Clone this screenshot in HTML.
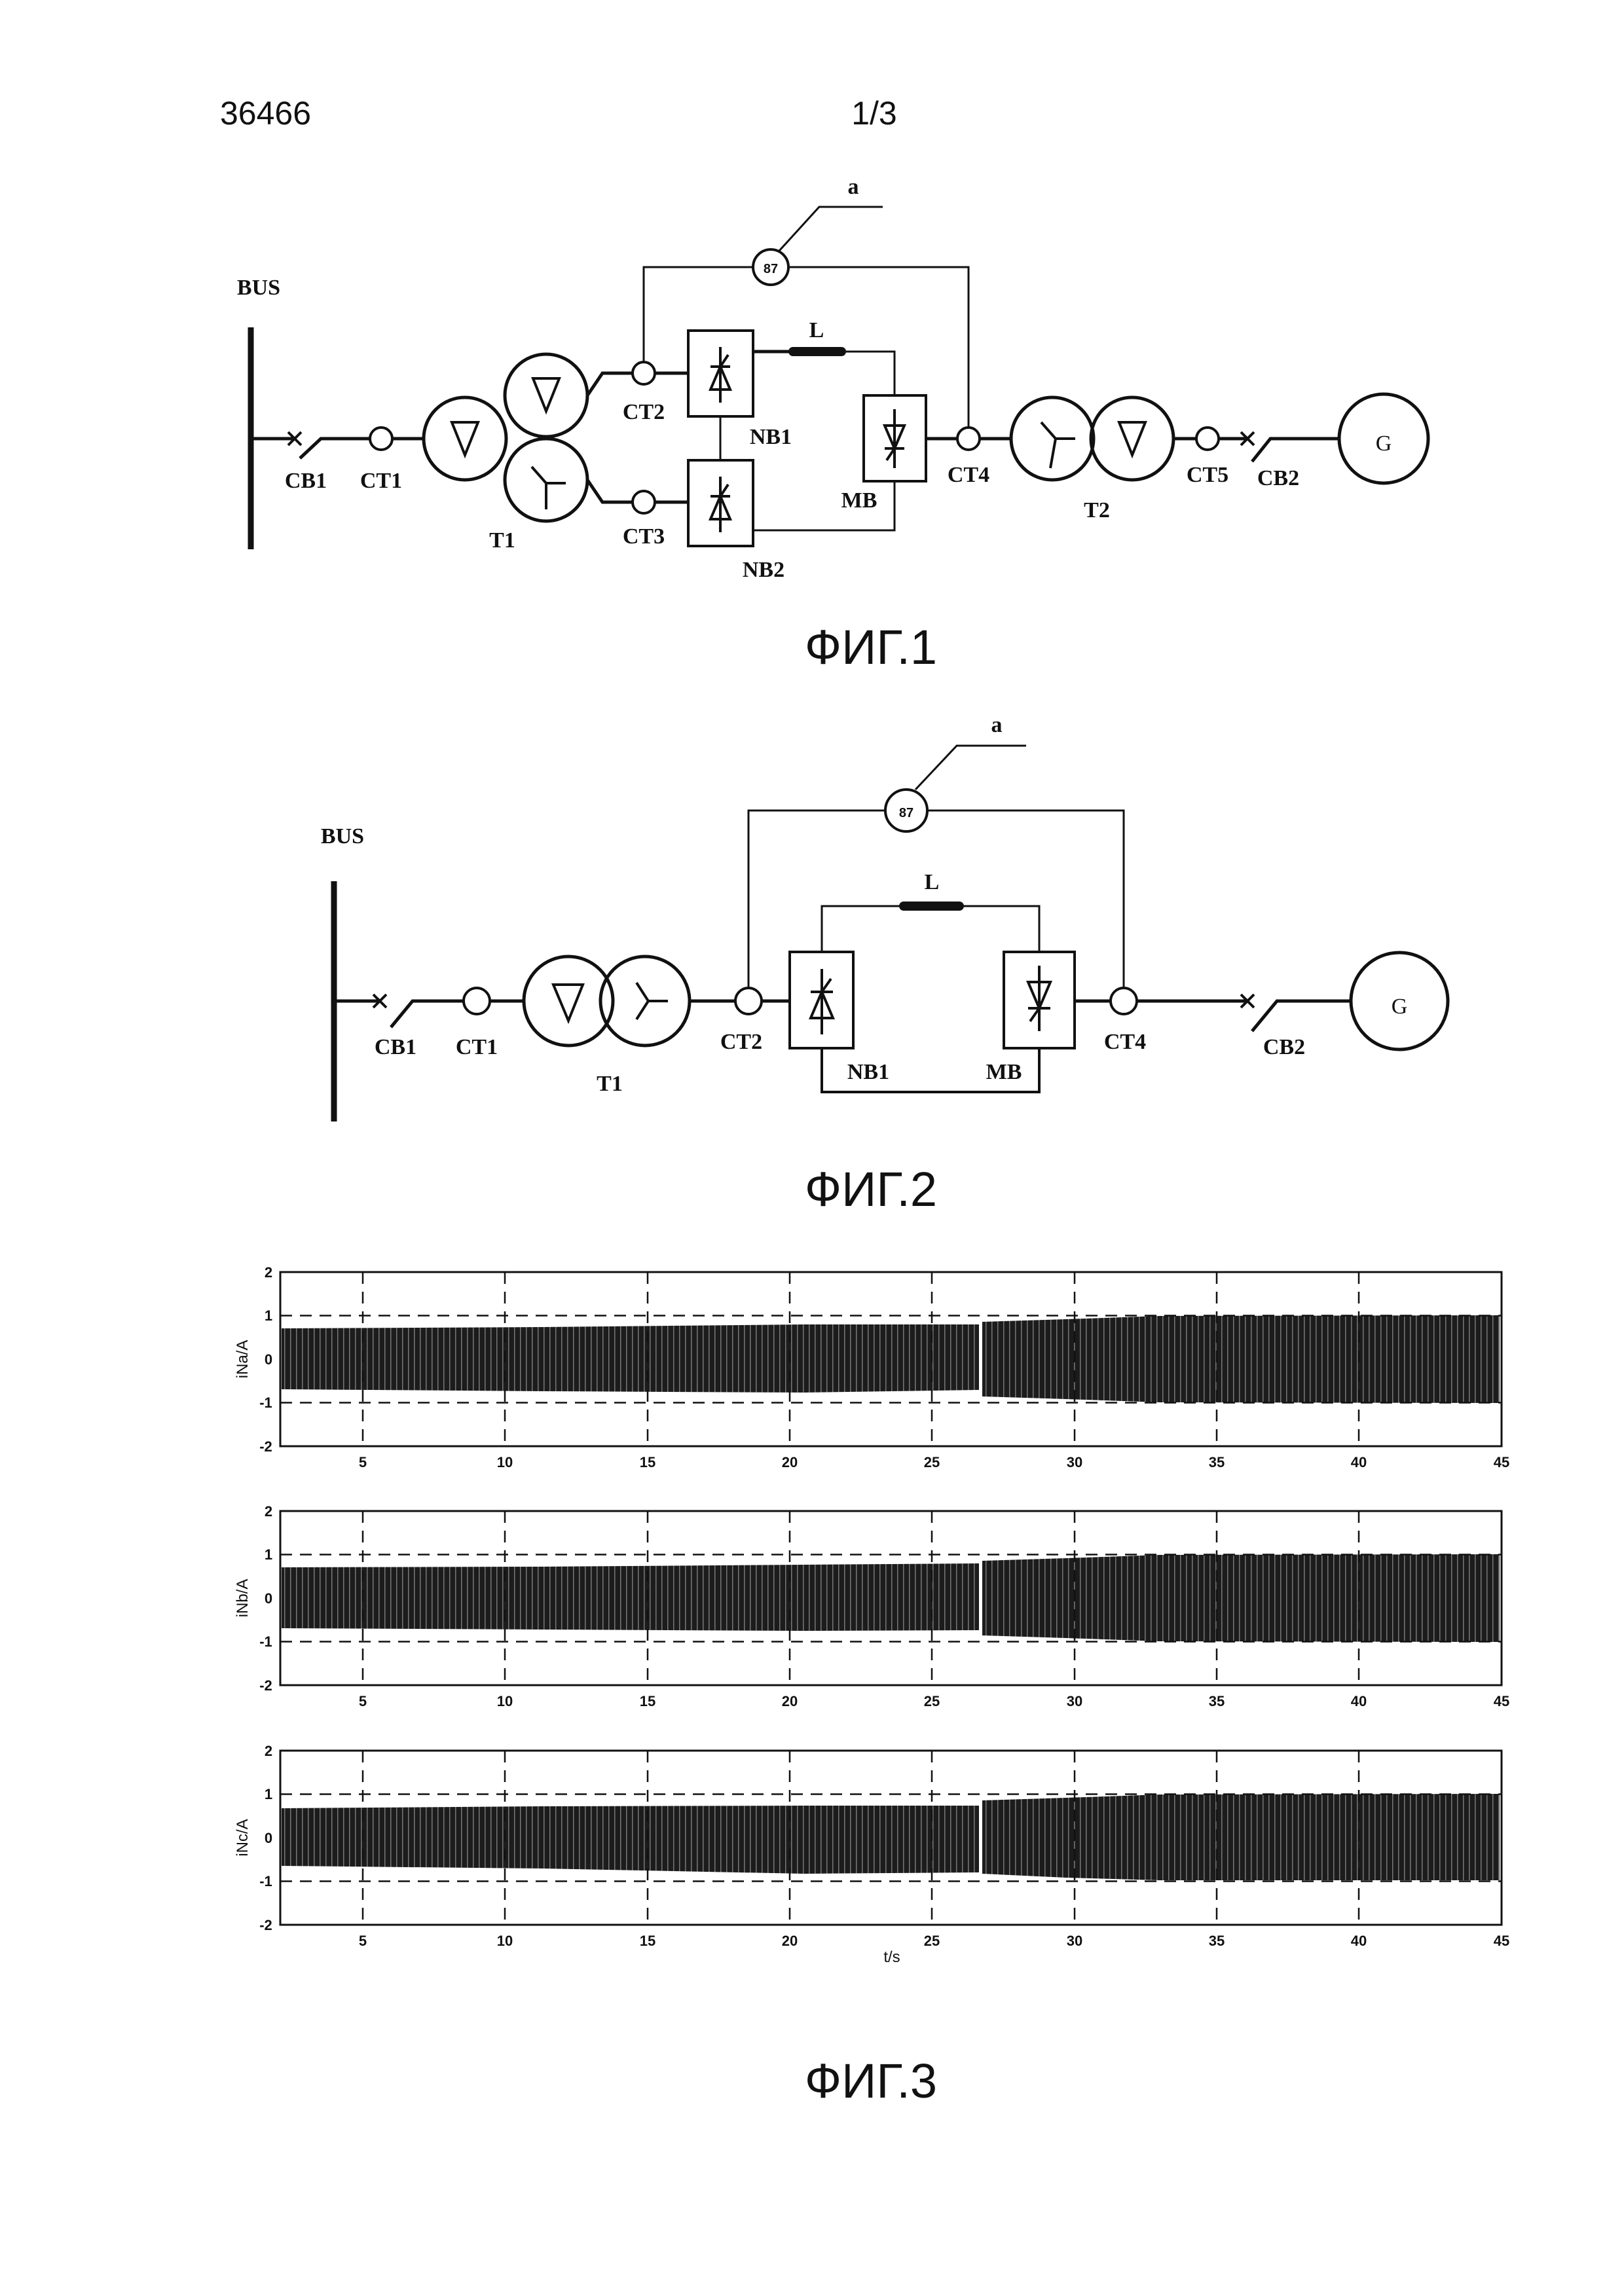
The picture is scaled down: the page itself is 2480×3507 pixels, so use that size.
<!DOCTYPE html>
<html><head><meta charset="utf-8"><style>
html,body{margin:0;padding:0;background:#fff;}
svg{display:block}
.s{font-family:"Liberation Serif",serif;font-size:34px;fill:#111;text-anchor:middle}
.h{font-family:"Liberation Sans",sans-serif;fill:#111}
.a{font-family:"Liberation Sans",sans-serif;font-size:20px;font-weight:bold;fill:#111;text-anchor:middle}
</style></head><body>
<svg width="2480" height="3507" viewBox="0 0 2480 3507" xmlns="http://www.w3.org/2000/svg">
<text x="336" y="190" class="h" font-size="50">36466</text>
<text x="1335" y="190" class="h" font-size="50" text-anchor="middle">1/3</text>

<!-- FIG 1 -->
<g stroke="#111" fill="none" stroke-width="5">
<line x1="383" y1="500" x2="383" y2="839" stroke-width="9"/>
<polyline points="383,670 450,670"/>
<path d="M440,660 l20,20 M460,660 l-20,20" stroke-width="4"/>
<polyline points="458,700 490,670 564,670" />
<circle cx="582" cy="670" r="17" stroke-width="4"/>
<line x1="599" y1="670" x2="647" y2="670"/>
<circle cx="710" cy="670" r="63"/>
<circle cx="834" cy="604" r="63"/>
<circle cx="834" cy="733" r="63"/>
<path d="M690,645 h40 l-20,50 z" stroke-width="4"/>
<path d="M814,578 h40 l-20,50 z" stroke-width="4"/>
<path d="M834,738 v40 M834,738 l-22,-25 M834,738 h30" stroke-width="4"/>
<polyline points="897,604 920,570 966,570"/>
<polyline points="897,733 920,767 966,767"/>
<circle cx="983" cy="570" r="17" stroke-width="4"/>
<circle cx="983" cy="767" r="17" stroke-width="4"/>
<line x1="1000" y1="570" x2="1051" y2="570"/>
<line x1="1000" y1="767" x2="1051" y2="767"/>
<rect x="1051" y="505" width="99" height="131" stroke-width="4"/>
<rect x="1051" y="703" width="99" height="131" stroke-width="4"/>
<line x1="1100" y1="636" x2="1100" y2="703" stroke-width="3"/>
<polyline points="1150,537 1211,537"/><line x1="1211" y1="537" x2="1285" y2="537" stroke-width="14" stroke-linecap="round"/>
<polyline points="1285,537 1366,537 1366,604" stroke-width="3"/>
<rect x="1319" y="604" width="95" height="131" stroke-width="4"/>
<polyline points="1366,735 1366,810 1150,810" stroke-width="3"/>
<line x1="1414" y1="670" x2="1462" y2="670"/>
<circle cx="1479" cy="670" r="17" stroke-width="4"/>
<line x1="1496" y1="670" x2="1544" y2="670"/>
<circle cx="1607" cy="670" r="63"/>
<circle cx="1729" cy="670" r="63"/>
<path d="M1612,670 h30 M1612,670 l-22,-25 M1612,670 l-8,45" stroke-width="4"/>
<path d="M1709,645 h40 l-20,50 z" stroke-width="4"/>
<line x1="1792" y1="670" x2="1827" y2="670"/>
<circle cx="1844" cy="670" r="17" stroke-width="4"/>
<line x1="1861" y1="670" x2="1905" y2="670"/>
<path d="M1895,660 l20,20 M1915,660 l-20,20" stroke-width="4"/>
<polyline points="1912,705 1940,670 2045,670"/>
<circle cx="2113" cy="670" r="68"/>
<polyline points="983,553 983,408 1150,408" stroke-width="3"/>
<polyline points="1204,408 1479,408 1479,653" stroke-width="3"/>
<circle cx="1177" cy="408" r="27" stroke-width="4"/>
<polyline points="1190,383 1251,316 1348,316" stroke-width="3"/>
<g stroke-width="4">
<path d="M1085,595 h30 l-15,-35 z M1085,560 h30 M1100,530 v85 M1100,560 l12,-18"/>
<path d="M1085,793 h30 l-15,-35 z M1085,758 h30 M1100,728 v85 M1100,758 l12,-18"/>
<path d="M1351,650 h30 l-15,35 z M1351,685 h30 M1366,625 v90 M1366,685 l-12,18"/>
</g>
</g>
<text x="1177" y="417" class="a">87</text>
<text x="1303" y="296" class="s" font-weight="bold">a</text>
<text x="395" y="450" class="s" font-weight="bold">BUS</text>
<g class="s" font-weight="bold">
<text x="467" y="745" class="s">CB1</text><text x="582" y="745" class="s">CT1</text>
<text x="767" y="836" class="s">T1</text><text x="983" y="640" class="s">CT2</text>
<text x="983" y="830" class="s">CT3</text><text x="1177" y="678" class="s">NB1</text>
<text x="1166" y="881" class="s">NB2</text><text x="1312" y="775" class="s">MB</text>
<text x="1247" y="515" class="s">L</text><text x="1479" y="736" class="s">CT4</text>
<text x="1675" y="790" class="s">T2</text><text x="1844" y="736" class="s">CT5</text>
<text x="1952" y="741" class="s">CB2</text>
</g>
<text x="2113" y="688" class="s" font-size="52">G</text>
<text x="1330" y="1014" class="h" font-size="74" text-anchor="middle">ФИГ.1</text>

<!-- FIG 2 -->
<g stroke="#111" fill="none" stroke-width="5">
<line x1="510" y1="1346" x2="510" y2="1713" stroke-width="9"/>
<line x1="510" y1="1529" x2="580" y2="1529"/>
<path d="M570,1519 l20,20 M590,1519 l-20,20" stroke-width="4"/>
<polyline points="597,1569 630,1529 708,1529"/>
<circle cx="728" cy="1529" r="20" stroke-width="4"/>
<line x1="748" y1="1529" x2="800" y2="1529"/>
<circle cx="868" cy="1529" r="68"/>
<circle cx="985" cy="1529" r="68"/>
<path d="M845,1504 h45 l-22,55 z" stroke-width="4"/>
<path d="M990,1529 h30 M990,1529 l-18,-28 M990,1529 l-18,28" stroke-width="4"/>
<line x1="1053" y1="1529" x2="1123" y2="1529"/>
<circle cx="1143" cy="1529" r="20" stroke-width="4"/>
<line x1="1163" y1="1529" x2="1206" y2="1529"/>
<rect x="1206" y="1454" width="97" height="147" stroke-width="4"/>
<rect x="1533" y="1454" width="108" height="147" stroke-width="4"/>
<polyline points="1255,1454 1255,1384 1380,1384" stroke-width="3"/>
<line x1="1380" y1="1384" x2="1465" y2="1384" stroke-width="14" stroke-linecap="round"/>
<polyline points="1465,1384 1587,1384 1587,1454" stroke-width="3"/>
<polyline points="1255,1601 1255,1668 1587,1668 1587,1601" stroke-width="4"/>
<line x1="1641" y1="1529" x2="1696" y2="1529"/>
<circle cx="1716" cy="1529" r="20" stroke-width="4"/>
<line x1="1736" y1="1529" x2="1905" y2="1529"/>
<path d="M1895,1519 l20,20 M1915,1519 l-20,20" stroke-width="4"/>
<polyline points="1912,1575 1950,1529 2063,1529"/>
<circle cx="2137" cy="1529" r="74"/>
<polyline points="1143,1509 1143,1238 1352,1238" stroke-width="3"/>
<polyline points="1416,1238 1716,1238 1716,1509" stroke-width="3"/>
<circle cx="1384" cy="1238" r="32" stroke-width="4"/>
<polyline points="1398,1206 1461,1139 1567,1139" stroke-width="3"/>
<g stroke-width="4">
<path d="M1238,1555 h34 l-17,-40 z M1238,1515 h34 M1255,1480 v100 M1255,1515 l14,-20"/>
<path d="M1570,1500 h34 l-17,40 z M1570,1540 h34 M1587,1475 v100 M1587,1540 l-14,20"/>
</g>
</g>
<text x="1384" y="1248" class="a" font-size="22">87</text>
<text x="1522" y="1118" class="s" font-weight="bold">a</text>
<text x="523" y="1288" class="s" font-weight="bold">BUS</text>
<g font-weight="bold">
<text x="604" y="1610" class="s">CB1</text><text x="728" y="1610" class="s">CT1</text>
<text x="931" y="1666" class="s">T1</text><text x="1132" y="1602" class="s">CT2</text>
<text x="1326" y="1648" class="s">NB1</text><text x="1533" y="1648" class="s">MB</text>
<text x="1718" y="1602" class="s">CT4</text><text x="1961" y="1610" class="s">CB2</text>
<text x="1423" y="1358" class="s">L</text>
</g>
<text x="2137" y="1548" class="s" font-size="56">G</text>
<text x="1330" y="1842" class="h" font-size="74" text-anchor="middle">ФИГ.2</text>

<!-- FIG 3 plots -->
<defs>
<g id="grid" stroke="#111" fill="none">
<rect x="0" y="0" width="1865" height="266" stroke-width="3"/>
<g stroke-width="2.5" stroke-dasharray="18,12">
<line x1="0" y1="66.5" x2="1865" y2="66.5"/>
<line x1="0" y1="199.5" x2="1865" y2="199.5"/>
<line x1="126" y1="0" x2="126" y2="266"/><line x1="343" y1="0" x2="343" y2="266"/>
<line x1="561" y1="0" x2="561" y2="266"/><line x1="778" y1="0" x2="778" y2="266"/>
<line x1="995" y1="0" x2="995" y2="266"/><line x1="1213" y1="0" x2="1213" y2="266"/>
<line x1="1430" y1="0" x2="1430" y2="266"/><line x1="1647" y1="0" x2="1647" y2="266"/>
</g>
</g>
<g id="ticks" class="h" font-size="22" font-weight="bold" text-anchor="middle" fill="#111">
<text x="126" y="298">5</text><text x="343" y="298">10</text><text x="561" y="298">15</text>
<text x="778" y="298">20</text><text x="995" y="298">25</text><text x="1213" y="298">30</text>
<text x="1430" y="298">35</text><text x="1647" y="298">40</text><text x="1865" y="298">45</text>
<text x="-18" y="8">2</text><text x="-18" y="74">1</text><text x="-18" y="141">0</text>
<text x="-22" y="207">-1</text><text x="-22" y="274">-2</text>
</g>
<pattern id="stripe" width="9" height="10" patternUnits="userSpaceOnUse">
<rect width="9" height="10" fill="#1c1c1c"/><rect x="6" width="1.5" height="10" fill="#777"/>
</pattern>
</defs>
<g transform="translate(428,1943)">
<path d="M2,86 L400,84 L800,80 L1067,80 L1067,180 L800,184 L400,182 L2,179 Z" fill="url(#stripe)"/>
<path d="M1072,76 L1200,72 L1343,67 L1862,66 L1862,200 L1343,199 L1200,194 L1072,190 Z" fill="url(#stripe)"/>
<use href="#grid"/><use href="#ticks"/>
<text transform="translate(-50,133) rotate(-90)" class="h" font-size="24" text-anchor="middle">iNa/A</text>
</g>
<g transform="translate(428,2308)">
<path d="M2,86 L400,85 L800,82 L1067,80 L1067,182 L800,183 L400,181 L2,179 Z" fill="url(#stripe)"/>
<path d="M1072,76 L1200,72 L1343,67 L1862,66 L1862,200 L1343,199 L1200,194 L1072,190 Z" fill="url(#stripe)"/>
<use href="#grid"/><use href="#ticks"/>
<text transform="translate(-50,133) rotate(-90)" class="h" font-size="24" text-anchor="middle">iNb/A</text>
</g>
<g transform="translate(428,2674)">
<path d="M2,88 L400,85 L800,84 L1067,84 L1067,186 L800,188 L400,180 L2,176 Z" fill="url(#stripe)"/>
<path d="M1072,76 L1200,72 L1343,67 L1862,66 L1862,198 L1343,198 L1200,194 L1072,188 Z" fill="url(#stripe)"/>
<use href="#grid"/><use href="#ticks"/>
<text transform="translate(-50,133) rotate(-90)" class="h" font-size="24" text-anchor="middle">iNc/A</text>
</g>
<text x="1362" y="2997" class="h" font-size="24" text-anchor="middle">t/s</text>
<text x="1330" y="3204" class="h" font-size="74" text-anchor="middle">ФИГ.3</text>
</svg>
</body></html>
